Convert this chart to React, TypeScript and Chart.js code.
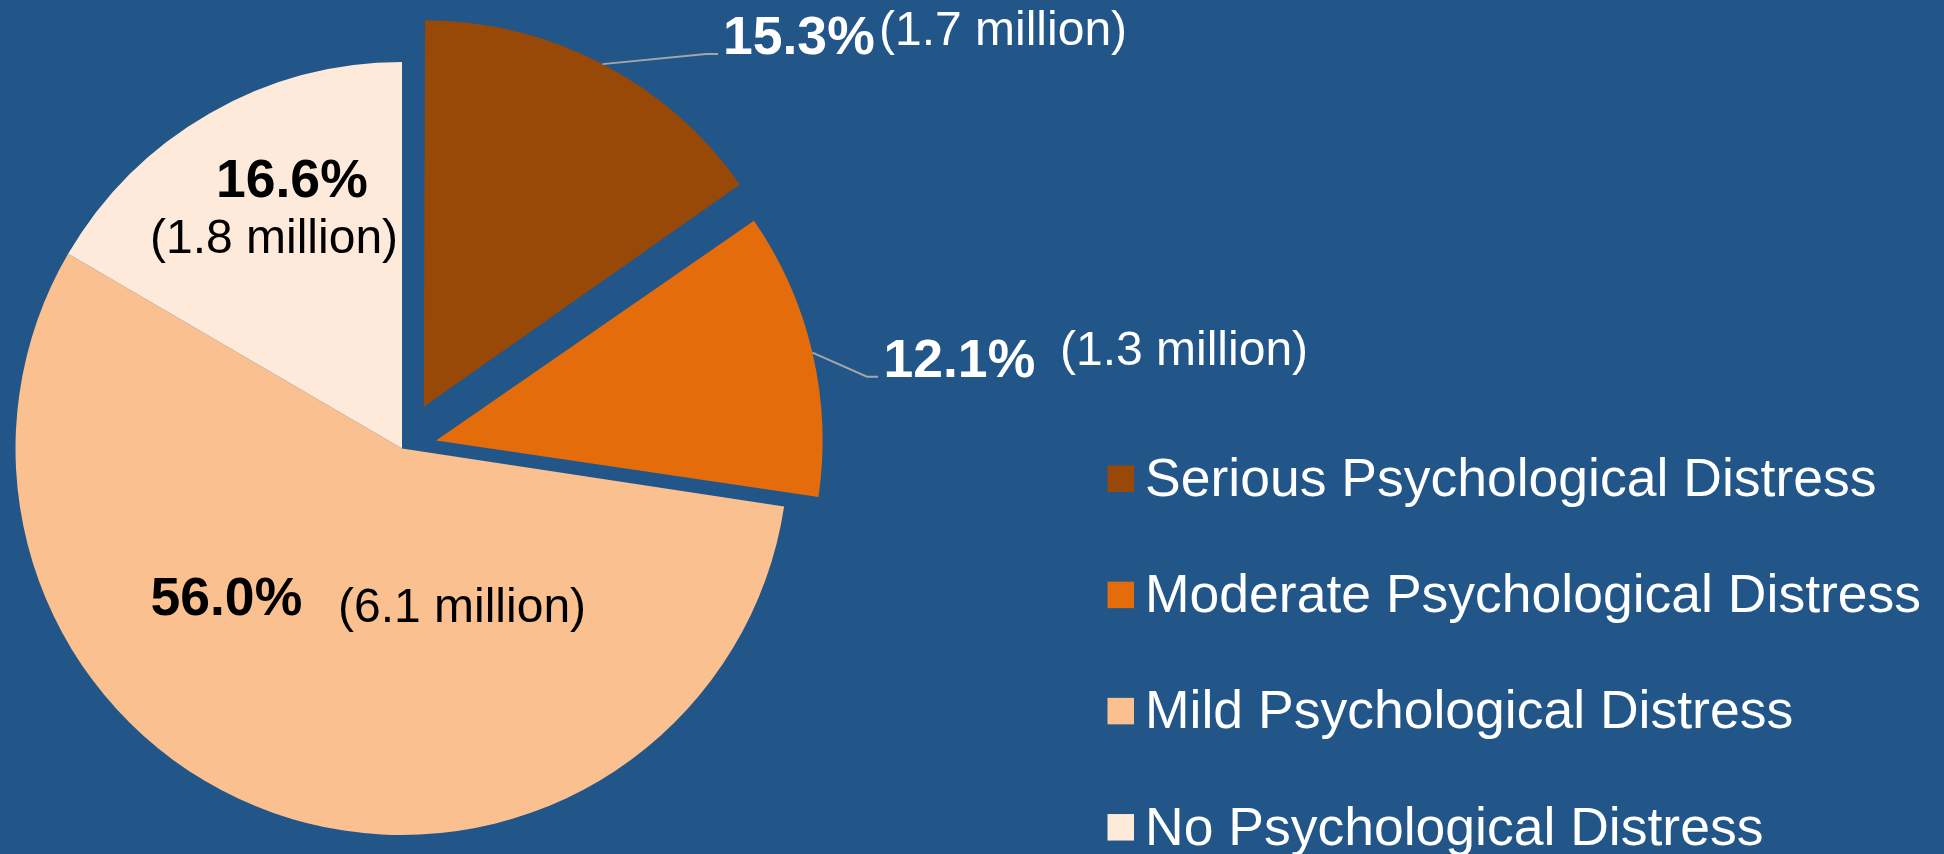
import React, { useEffect, useRef } from "react";
import { Chart, registerables } from "chart.js";

Chart.register(...registerables);

// ---- data ----
const categories = [
  "Serious Psychological Distress",
  "Moderate Psychological Distress",
  "Mild Psychological Distress",
  "No Psychological Distress",
];
const percentValues = [15.3, 12.1, 56.0, 16.6];
const millionValues = [1.7, 1.3, 6.1, 1.8];

// ---- styles ----
const sliceColors = ["#984807", "#E46C0A", "#FAC090", "#FDEADA"];
const explodeOffsets = [188, 140, 0, 0]; // Chart.js translates by offset/4
const BG = "#225689";
const FONT = '"Liberation Sans", Arial, sans-serif';
const LEADER_COLOR = "#A6A6A6";
const PCT_FONT = 53.5;
const MIL_FONT = 48;

// label layout: text origins (left, alphabetic baseline) & leader kink points
const labelLayout = [
  { pct: [723, 53.5], mil: [879, 44.5], color: "#FFFFFF", leader: [[706, 54], [718, 54]] },
  { pct: [883.5, 376.7], mil: [1060, 365], color: "#FFFFFF", leader: [[867, 376.7], [878, 376.7]] },
  { pct: [150.5, 615], mil: [338, 622], color: "#000000", leader: null },
  { pct: [216, 196.7], mil: [150, 253], color: "#000000", leader: null },
];

const legendLayout = { boxX: 1107.5, box: 26.5, textX: 1145, firstY: 478.7, step: 116.2, font: 53.5 };

const bgPlugin = {
  id: "bg",
  beforeDraw(chart: any) {
    const { ctx, width, height } = chart;
    ctx.save();
    ctx.fillStyle = BG;
    ctx.fillRect(0, 0, width, height);
    ctx.restore();
  },
};

// keep exploded slices at the same radius as the others
const radiusFixPlugin = {
  id: "radiusFix",
  afterDatasetsUpdate(chart: any) {
    const meta = chart.getDatasetMeta(0);
    meta.data.forEach((arc: any, i: number) => {
      const off = (explodeOffsets[i] || 0) / 4;
      if (!off) return;
      const fix = 1 - Math.sin(Math.min(Math.PI, arc.circumference || 0));
      arc.outerRadius = arc.outerRadius - off * fix;
    });
  },
};

const labelsPlugin = {
  id: "sliceLabels",
  afterDatasetsDraw(chart: any) {
    const { ctx } = chart;
    const meta = chart.getDatasetMeta(0);
    ctx.save();
    meta.data.forEach((arc: any, i: number) => {
      const lay = labelLayout[i];
      const mid = (arc.startAngle + arc.endAngle) / 2;
      const off = (explodeOffsets[i] || 0) / 4;
      const fix = 1 - Math.sin(Math.min(Math.PI, arc.circumference || 0));
      const R = arc.outerRadius + off * fix;
      if (lay.leader) {
        const sx = arc.x + Math.cos(mid) * (off + R);
        const sy = arc.y + Math.sin(mid) * (off + R);
        ctx.strokeStyle = LEADER_COLOR;
        ctx.lineWidth = 2;
        ctx.beginPath();
        ctx.moveTo(sx, sy);
        lay.leader.forEach((p: number[]) => ctx.lineTo(p[0], p[1]));
        ctx.stroke();
      }
      ctx.fillStyle = lay.color;
      ctx.textAlign = "left";
      ctx.textBaseline = "alphabetic";
      ctx.font = `bold ${PCT_FONT}px ${FONT}`;
      ctx.fillText(`${percentValues[i].toFixed(1)}%`, lay.pct[0], lay.pct[1]);
      ctx.font = `${MIL_FONT}px ${FONT}`;
      ctx.fillText(`(${millionValues[i].toFixed(1)} million)`, lay.mil[0], lay.mil[1]);
    });
    ctx.restore();
  },
};

const legendPlugin = {
  id: "customLegend",
  afterDraw(chart: any) {
    const { ctx } = chart;
    const L = legendLayout;
    ctx.save();
    ctx.textAlign = "left";
    ctx.textBaseline = "alphabetic";
    ctx.font = `${L.font}px ${FONT}`;
    chart.data.labels.forEach((label: string, i: number) => {
      const cy = L.firstY + i * L.step;
      ctx.fillStyle = sliceColors[i];
      ctx.fillRect(L.boxX, cy - L.box / 2, L.box, L.box);
      ctx.fillStyle = "#FFFFFF";
      ctx.fillText(label, L.textX, cy + 17.3);
    });
    ctx.restore();
  },
};

export default function App() {
  const ref = useRef<HTMLCanvasElement | null>(null);

  useEffect(() => {
    document.body.style.margin = "0";
    document.body.style.background = BG;
    const canvas = ref.current;
    if (!canvas) return;
    const chart = new Chart(canvas, {
      type: "pie",
      data: {
        labels: categories,
        datasets: [
          {
            data: percentValues,
            backgroundColor: sliceColors,
            borderWidth: 0,
            offset: explodeOffsets,
            radius: 386.5,
          } as any,
        ],
      },
      options: {
        responsive: false,
        animation: false,
        events: [],
        layout: { padding: { left: 0, right: 1140, top: 43, bottom: 0 } },
        plugins: {
          legend: { display: false },
          tooltip: { enabled: false },
          title: { display: false },
        },
      },
      plugins: [bgPlugin, radiusFixPlugin, labelsPlugin, legendPlugin],
    });
    return () => chart.destroy();
  }, []);

  return (
    <div style={{ position: "absolute", left: 0, top: 0, width: 1944, height: 854, background: BG }}>
      <canvas ref={ref} width={1944} height={854} style={{ display: "block" }} />
    </div>
  );
}
